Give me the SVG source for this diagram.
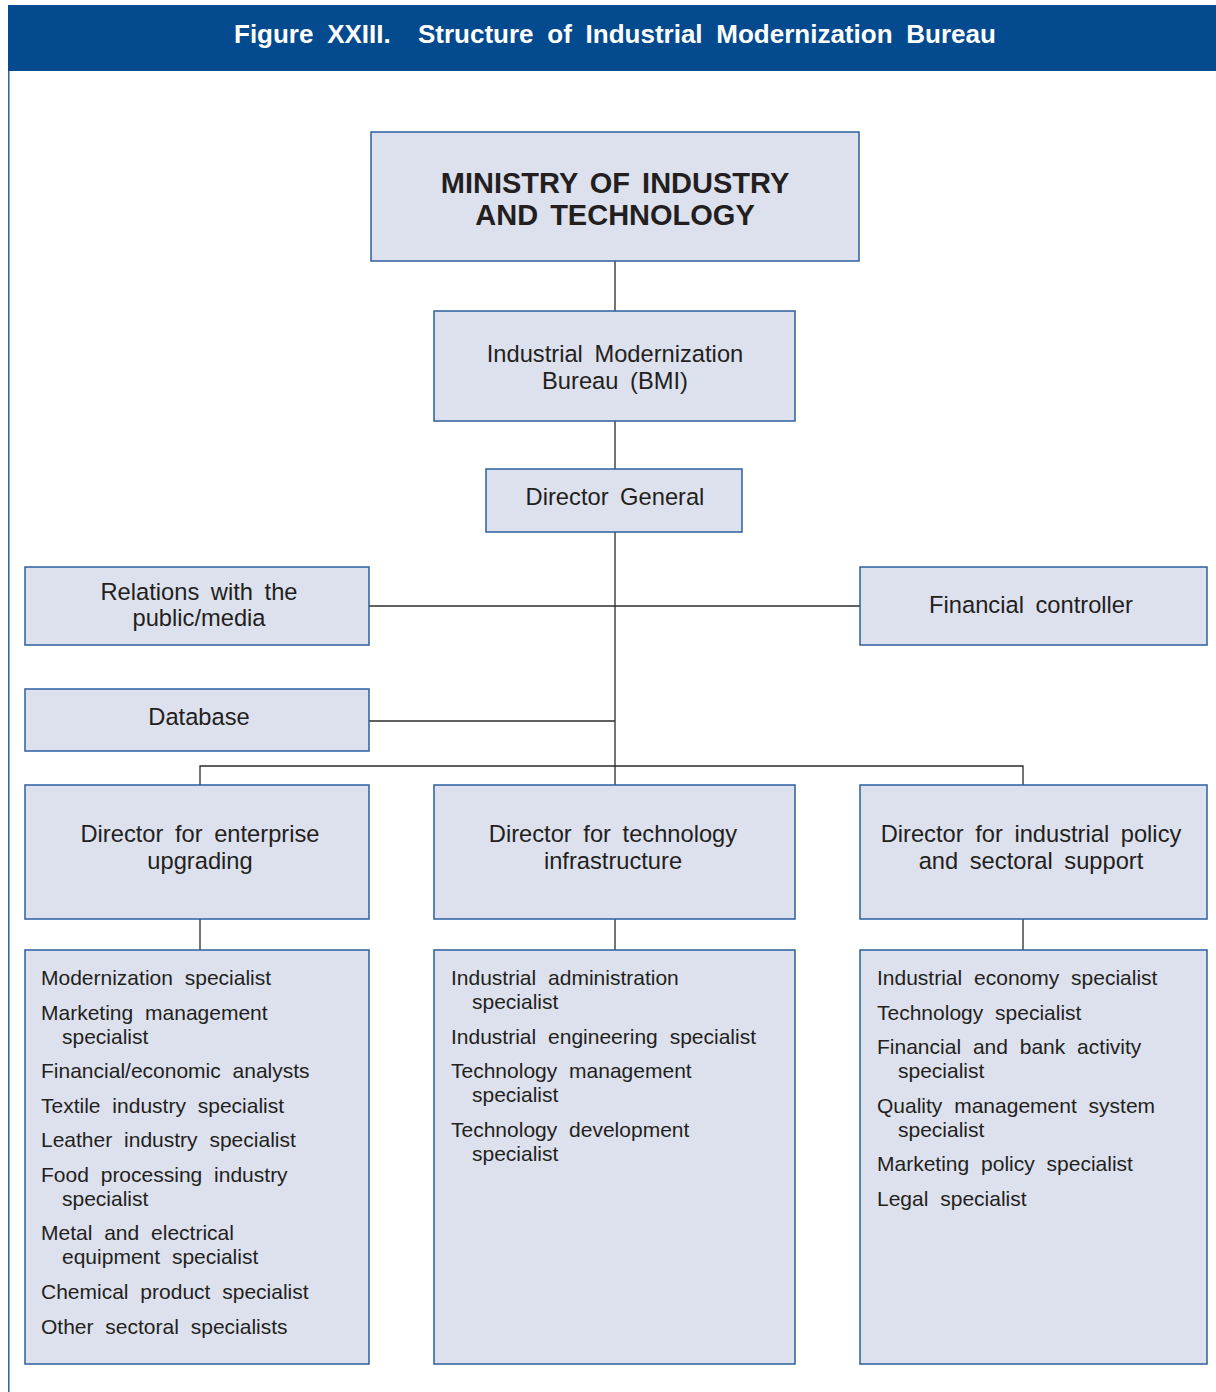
<svg xmlns="http://www.w3.org/2000/svg" width="1216" height="1392" viewBox="0 0 1216 1392">
<style>
.box{fill:#dde1ee;stroke:#2c5f9e;stroke-width:1.5}
.ln{fill:none;stroke:#2b2b2b;stroke-width:1.3}
text{font-family:"Liberation Sans",Arial,sans-serif;fill:#231f20}
.t{font-size:23.7px;word-spacing:5px;text-anchor:middle}
.l{font-size:21px;word-spacing:6px}
.big{font-size:29px;font-weight:bold;word-spacing:4px;text-anchor:middle}
.hd{font-size:26px;font-weight:bold;fill:#ffffff;word-spacing:6.5px}
</style>
<rect x="0" y="0" width="1216" height="1392" fill="#ffffff"/>
<g id="frame">
<rect x="8" y="5" width="1208" height="66" fill="#034a8f"/>
<line x1="8.8" y1="71" x2="8.8" y2="1392" stroke="#2c5f9e" stroke-width="1.5"/>
<text class="hd" x="234" y="43">Figure XXIII.</text>
<text class="hd" x="418" y="43">Structure of Industrial Modernization Bureau</text>
</g>
<g id="connectors">
<line class="ln" x1="615" y1="261" x2="615" y2="311"/>
<line class="ln" x1="615" y1="421" x2="615" y2="469"/>
<line class="ln" x1="615" y1="532" x2="615" y2="785"/>
<line class="ln" x1="369" y1="606" x2="860" y2="606"/>
<line class="ln" x1="369" y1="721" x2="615" y2="721"/>
<polyline class="ln" points="200,785 200,766 1023,766 1023,785"/>
<line class="ln" x1="200" y1="919" x2="200" y2="950"/>
<line class="ln" x1="615" y1="919" x2="615" y2="950"/>
<line class="ln" x1="1023" y1="919" x2="1023" y2="950"/>
</g>
<g id="ministry">
<rect class="box" x="371" y="132" width="488" height="129"/>
<text class="big" x="615" y="193">MINISTRY OF INDUSTRY</text>
<text class="big" x="615" y="225">AND TECHNOLOGY</text>
</g>
<g id="bmi">
<rect class="box" x="434" y="311" width="361" height="110"/>
<text class="t" x="615" y="362">Industrial Modernization</text>
<text class="t" x="615" y="389">Bureau (BMI)</text>
</g>
<g id="director-general">
<rect class="box" x="486" y="469" width="256" height="63"/>
<text class="t" x="615" y="505">Director General</text>
</g>
<g id="relations">
<rect class="box" x="25" y="567" width="344" height="78"/>
<text class="t" x="199" y="600">Relations with the</text>
<text class="t" x="199" y="626">public/media</text>
</g>
<g id="financial-controller">
<rect class="box" x="860" y="567" width="347" height="78"/>
<text class="t" x="1031" y="613">Financial controller</text>
</g>
<g id="database">
<rect class="box" x="25" y="689" width="344" height="62"/>
<text class="t" x="199" y="725">Database</text>
</g>
<g id="dir-enterprise">
<rect class="box" x="25" y="785" width="344" height="134"/>
<text class="t" x="200" y="842">Director for enterprise</text>
<text class="t" x="200" y="869">upgrading</text>
</g>
<g id="dir-technology">
<rect class="box" x="434" y="785" width="361" height="134"/>
<text class="t" x="613" y="842">Director for technology</text>
<text class="t" x="613" y="869">infrastructure</text>
</g>
<g id="dir-policy">
<rect class="box" x="860" y="785" width="347" height="134"/>
<text class="t" x="1031" y="842">Director for industrial policy</text>
<text class="t" x="1031" y="869">and sectoral support</text>
</g>
<g id="list-enterprise">
<rect class="box" x="25" y="950" width="344" height="414"/>
<text class="l" x="41" y="985">Modernization specialist</text>
<text class="l" x="41" y="1019.5">Marketing management</text>
<text class="l" x="62" y="1043.5">specialist</text>
<text class="l" x="41" y="1078">Financial/economic analysts</text>
<text class="l" x="41" y="1112.5">Textile industry specialist</text>
<text class="l" x="41" y="1147">Leather industry specialist</text>
<text class="l" x="41" y="1181.5">Food processing industry</text>
<text class="l" x="62" y="1205.5">specialist</text>
<text class="l" x="41" y="1240">Metal and electrical</text>
<text class="l" x="62" y="1264">equipment specialist</text>
<text class="l" x="41" y="1299">Chemical product specialist</text>
<text class="l" x="41" y="1333.5">Other sectoral specialists</text>
</g>
<g id="list-technology">
<rect class="box" x="434" y="950" width="361" height="414"/>
<text class="l" x="451" y="985">Industrial administration</text>
<text class="l" x="472" y="1009">specialist</text>
<text class="l" x="451" y="1043.5">Industrial engineering specialist</text>
<text class="l" x="451" y="1078">Technology management</text>
<text class="l" x="472" y="1102">specialist</text>
<text class="l" x="451" y="1136.5">Technology development</text>
<text class="l" x="472" y="1160.5">specialist</text>
</g>
<g id="list-policy">
<rect class="box" x="860" y="950" width="347" height="414"/>
<text class="l" x="877" y="985">Industrial economy specialist</text>
<text class="l" x="877" y="1019.5">Technology specialist</text>
<text class="l" x="877" y="1054">Financial and bank activity</text>
<text class="l" x="898" y="1078">specialist</text>
<text class="l" x="877" y="1112.5">Quality management system</text>
<text class="l" x="898" y="1136.5">specialist</text>
<text class="l" x="877" y="1171">Marketing policy specialist</text>
<text class="l" x="877" y="1205.5">Legal specialist</text>
</g>
</svg>
